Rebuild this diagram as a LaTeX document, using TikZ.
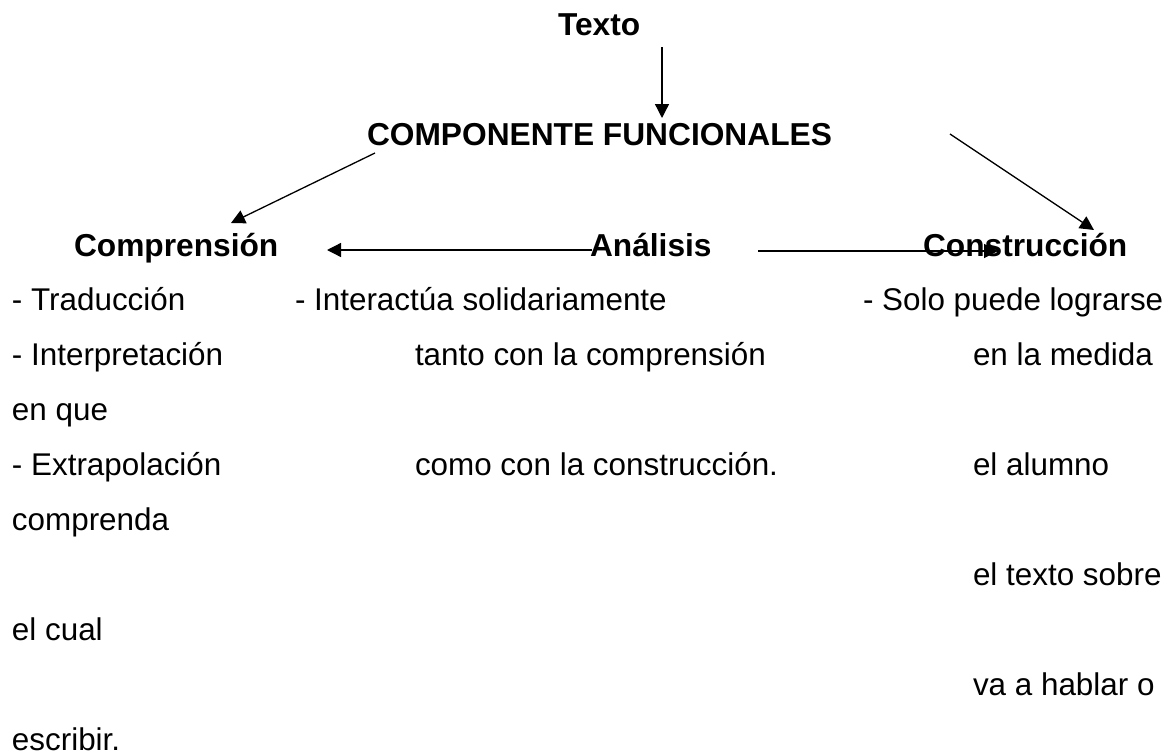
\documentclass[tikz,border=0pt]{standalone}
\usepackage{fontspec}
\setmainfont{Liberation Sans}
\usetikzlibrary{arrows.meta}
\begin{document}
\begin{tikzpicture}[x=1pt,y=-1pt,
  txt/.style={anchor=base west, inner sep=0pt, outer sep=0pt, font=\fontsize{31.4}{37}\selectfont},
  hd/.style={txt, font=\fontsize{31.7}{37}\selectfont\bfseries},
  arr/.style={line width=1.3pt, -{Triangle[length=14pt,width=14pt]}}]
\useasboundingbox[fill=white] (0,0) rectangle (1173,755);
% headings
\node[hd] (texto) at (558,35) {Texto};
\node[hd] (comp) at (367,145) {COMPONENTE FUNCIONALES};
\node[hd] (compr) at (74,256) {Comprensión};
\node[hd] (anal) at (590,256) {Análisis};
\node[hd] (constr) at (923,256) {Construcción};
% left column
\node[txt] (l1) at (12,310) {- Traducción};
\node[txt] (l2) at (12,365) {- Interpretación};
\node[txt] (l3) at (12,420) {en que};
\node[txt] (l4) at (12,475) {- Extrapolación};
\node[txt] (l5) at (12,530) {comprenda};
\node[txt] (l7) at (12,640) {el cual};
\node[txt] (l9) at (12,750) {escribir.};
% middle column
\node[txt] (m1) at (295,310) {- Interactúa solidariamente};
\node[txt] (m2) at (415,365) {tanto con la comprensión};
\node[txt] (m4) at (415,475) {como con la construcción.};
% right column
\node[txt] (r1) at (863,310) {- Solo puede lograrse};
\node[txt] (r2) at (973,365) {en la medida};
\node[txt] (r4) at (973,475) {el alumno};
\node[txt] (r6) at (973,585) {el texto sobre};
\node[txt] (r8) at (973,695) {va a hablar o};
% arrow end points
\coordinate (v1) at (662,47);
\coordinate (v2) at (662,118);
\coordinate (dl1) at (375,153);
\coordinate (dl2) at (231,223);
\coordinate (dr1) at (950,134);
\coordinate (dr2) at (1094,230);
\coordinate (hl1) at (592,250);
\coordinate (hl2) at (327,250);
\coordinate (hr1) at (758,251);
\coordinate (hr2) at (998,251);
% arrows
\draw[arr] (v1) -- (v2);
\draw[arr] (dl1) -- (dl2);
\draw[arr] (dr1) -- (dr2);
\draw[arr] (hl1) -- (hl2);
\draw[arr] (hr1) -- (hr2);
\end{tikzpicture}
\end{document}
